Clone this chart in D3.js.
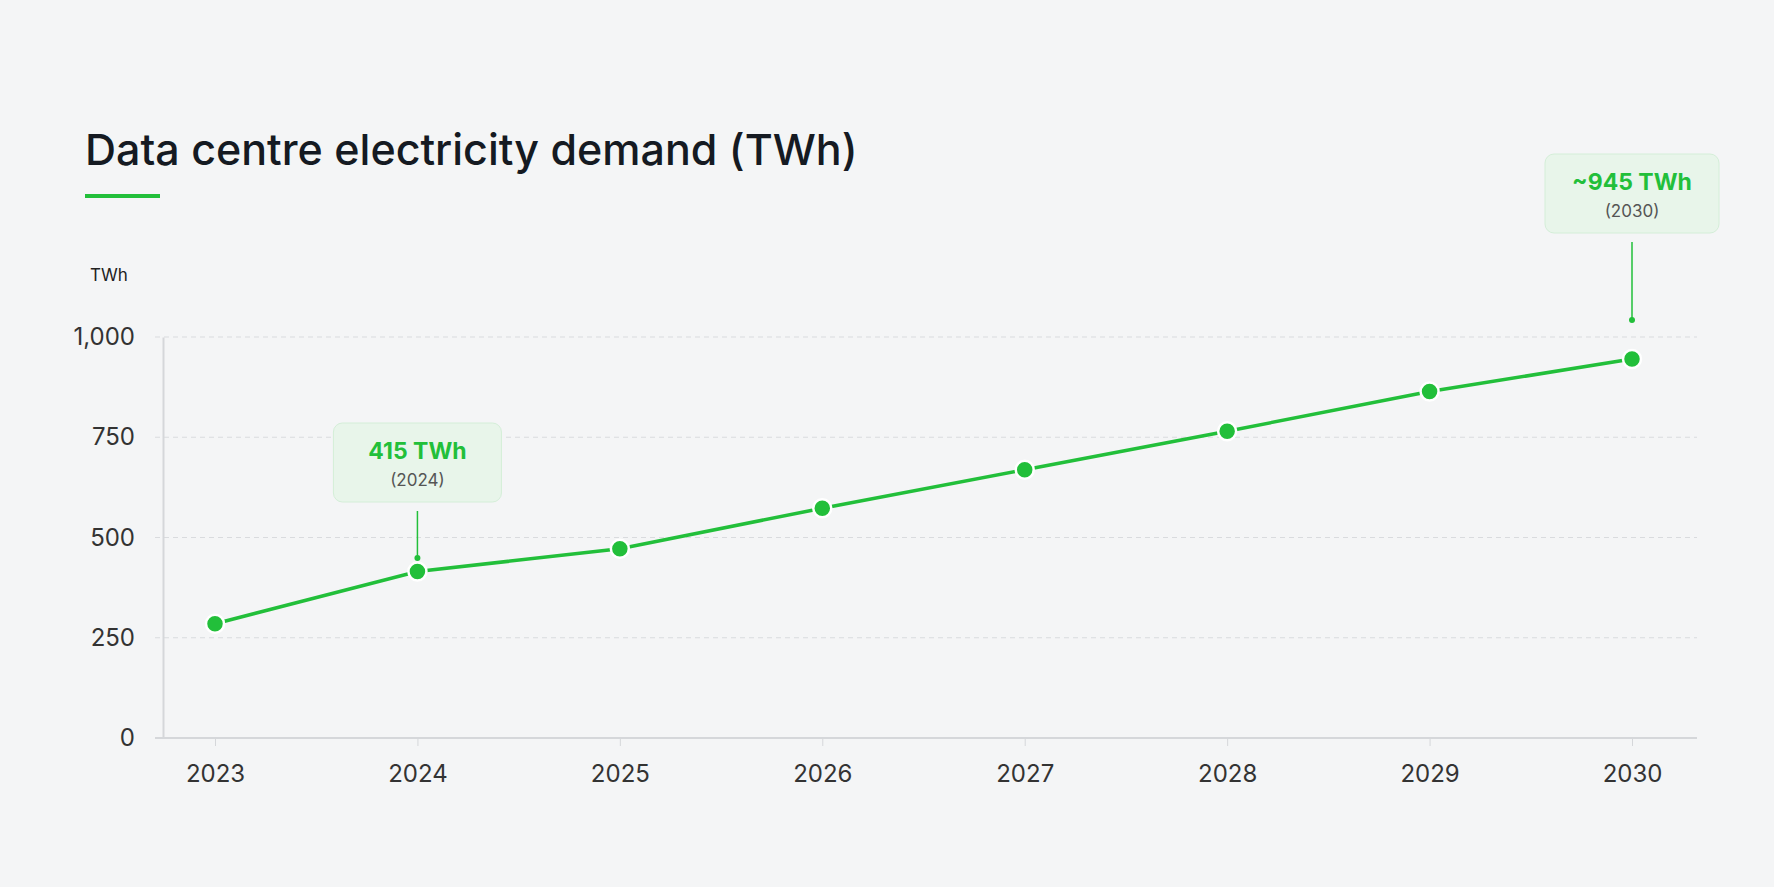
<!DOCTYPE html>
<html><head><meta charset="utf-8">
<script src="https://cdn.jsdelivr.net/npm/d3@7"></script>
<style>html,body{margin:0;background:#f4f5f6;}svg{display:block;font-family:Inter,"Noto Sans",sans-serif;}</style>
</head><body><svg id="c" width="1774" height="887"></svg>
<script>
const years = [2023,2024,2025,2026,2027,2028,2029,2030];
const demand = [285,415,472,573,669,765,864,945];
const yTicks = [0,250,500,750,1000];
const annotations = [{year:2024, value:415, label:"415 TWh", sub:"(2024)", boxTop:423, dotY:558},{year:2030, value:945, label:"~945 TWh", sub:"(2030)", boxTop:154, dotY:320}];
const green = "#22bf3a";
const svg = d3.select("#c");
svg.append("rect").attr("width",1774).attr("height",887).attr("fill","#f4f5f6");
svg.append("text").attr("x",85).attr("y",165).attr("font-size",43).attr("font-weight",500).attr("fill","#151a22").text("Data centre electricity demand (TWh)");
svg.append("rect").attr("x",85).attr("y",194).attr("width",75).attr("height",4).attr("fill",green);
svg.append("text").attr("x",90).attr("y",281).attr("font-size",17).attr("fill","#222").text("TWh");
const x = d3.scalePoint().domain(years).range([215,1632]);
const y = d3.scaleLinear().domain([0,1000]).range([738,337]);
const g = svg.append("g");
yTicks.forEach(t=>{ if(t>0) g.append("line").attr("x1",155).attr("x2",1697).attr("y1",y(t)).attr("y2",y(t)).attr("stroke","#d9dbde").attr("stroke-dasharray","5,4");});
const ya = svg.append("g").attr("transform","translate(163,0)").call(d3.axisLeft(y).tickValues(yTicks).tickSize(0).tickPadding(28).tickFormat(d3.format(",")));
ya.select(".domain").attr("stroke","#d5d7da").attr("stroke-width",2);
ya.selectAll("text").attr("font-size",24).attr("fill","#333").attr("font-family","Inter,sans-serif");
const xa = svg.append("g").attr("transform","translate(0,738)").call(d3.axisBottom(x).tickSize(8).tickPadding(19));
xa.select(".domain").attr("d","M155,0H1697").attr("stroke","#d5d7da").attr("stroke-width",2);
xa.selectAll(".tick line").attr("stroke","#d5d7da");
xa.selectAll("text").attr("font-size",24).attr("fill","#333").attr("font-family","Inter,sans-serif");
svg.append("path").datum(years.map((yr,i)=>[yr,demand[i]])).attr("fill","none").attr("stroke",green).attr("stroke-width",3.5)
 .attr("d",d3.line().x(d=>x(d[0])).y(d=>y(d[1])));
svg.selectAll("circle.p").data(years).join("circle").attr("class","p").attr("cx",d=>x(d)).attr("cy",(d,i)=>y(demand[i])).attr("r",9).attr("fill",green).attr("stroke","#fff").attr("stroke-width",2.5);
annotations.forEach(a=>{
  const cx = x(a.year);
  const by = a.boxTop, bh = 79, bw = a.label.length>7?174:168;
  svg.append("rect").attr("x",cx-bw/2).attr("y",by).attr("width",bw).attr("height",bh).attr("rx",9).attr("fill","#e8f5ea").attr("stroke","#d4eed8");
  svg.append("text").attr("x",cx).attr("y",by+36).attr("text-anchor","middle").attr("font-size",23).attr("font-weight",700).attr("fill",green).text(a.label);
  svg.append("text").attr("x",cx).attr("y",by+63).attr("text-anchor","middle").attr("font-size",17).attr("fill","#555").text(a.sub);
  svg.append("line").attr("x1",cx).attr("x2",cx).attr("y1",by+bh+9).attr("y2",a.dotY).attr("stroke",green).attr("stroke-width",1.5);
  svg.append("circle").attr("cx",cx).attr("cy",a.dotY).attr("r",3).attr("fill",green);
});
</script></body></html>
